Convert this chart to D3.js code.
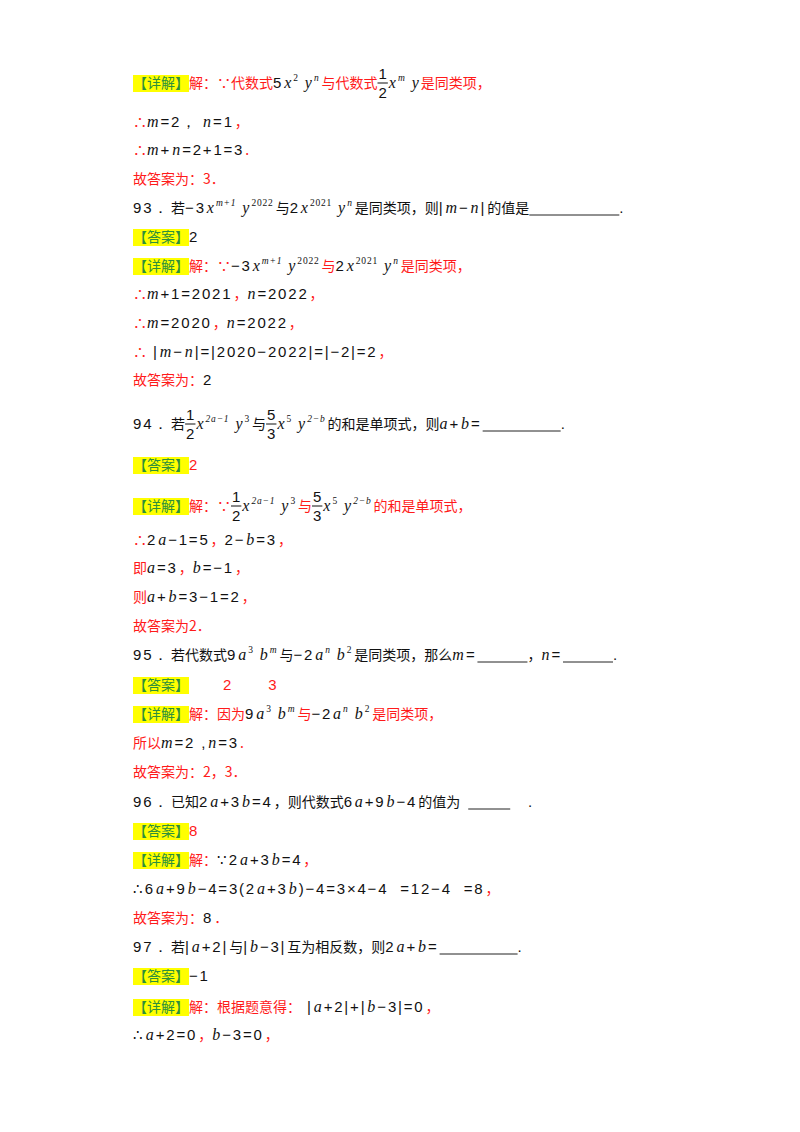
<!DOCTYPE html>
<html><head><meta charset="utf-8">
<script src="https://cdn.jsdelivr.net/npm/d3@7/dist/d3.min.js"></script>
<style>body{margin:0;background:#fff}</style>
</head><body>
<svg id="page" width="800" height="1132"></svg>
<script>
// token helpers: type, text, colour
function c(t, col) { return ["c", t, col]; }
function m(t, col) { return ["m", t, col]; }
function n(t, col) { return ["n", t, col]; }
function s(t) { return ["s", t]; }
function f(a, b) { return ["f", a, b]; }
function T(t) { return ["T", t]; }
function B(w) { return ["B", w]; }
function g(w) { return ["g", w]; }

var rowY = [88, 127, 155, 184, 213, 242, 271, 299, 328, 357, 385, 429, 470, 511, 545, 573, 602, 631, 660, 690, 719, 748, 777, 807, 836, 865, 894, 923, 952, 981, 1012, 1040];

var lines = [
  [T("【详解】"), c("解：∵代数式","r"), n("5"), m("x"), s("2"), m(" y"), s("n"), c("与代数式","r"), f("1","2"), m("x"), s("m"), m(" y"), c("是同类项，","r")],
  [c("∴","r"), m("m"), n("=2，"), m(" n"), n("=1"), c("，","r")],
  [c("∴","r"), m("m"), n("+"), m("n"), n("=2+1=3"), c(".","r")],
  [c("故答案为：3．","r")],
  [n("93．"), c("若"), n("−3"), m("x"), s("m+1"), m(" y"), s("2022"), c("与"), n("2"), m("x"), s("2021"), m(" y"), s("n"), c("是同类项，则"), n("|"), m("m"), n("−"), m("n"), n("|"), c("的值是"), B(90), n(".")],
  [T("【答案】"), n("2")],
  [T("【详解】"), c("解：∵","r"), n("−3"), m("x"), s("m+1"), m(" y"), s("2022"), c("与","r"), n("2"), m("x"), s("2021"), m(" y"), s("n"), c("是同类项，","r")],
  [c("∴","r"), m("m"), n("+1=2021"), c("，","r"), m("n"), n("=2022"), c("，","r")],
  [c("∴","r"), m("m"), n("=2020"), c("，","r"), m("n"), n("=2022"), c("，","r")],
  [c("∴","r"), n(" |"), m("m"), n("−"), m("n"), n("|=|2020−2022|=|−2|=2"), c("，","r")],
  [c("故答案为：","r"), n("2")],
  [n("94．"), c("若"), f("1","2"), m("x"), s("2a−1"), m(" y"), s("3"), c("与"), f("5","3"), m("x"), s("5"), m(" y"), s("2−b"), c("的和是单项式，则"), m("a"), n("+"), m("b"), n("="), B(78), n(".")],
  [T("【答案】"), n("2","r")],
  [T("【详解】"), c("解：∵","r"), f("1","2"), m("x"), s("2a−1"), m(" y"), s("3"), c("与","r"), f("5","3"), m("x"), s("5"), m(" y"), s("2−b"), c("的和是单项式，","r")],
  [c("∴","r"), n("2"), m("a"), n("−1=5"), c("，","r"), n("2−"), m("b"), n("=3"), c("，","r")],
  [c("即","r"), m("a"), n("=3"), c("，","r"), m("b"), n("=−1"), c("，","r")],
  [c("则","r"), m("a"), n("+"), m("b"), n("=3−1=2"), c("，","r")],
  [c("故答案为2．","r")],
  [n("95．"), c("若代数式"), n("9"), m("a"), s("3"), m(" b"), s("m"), c("与"), n("−2"), m("a"), s("n"), m(" b"), s("2"), c("是同类项，那么"), m("m"), n("="), B(50), c("，"), m("n"), n("="), B(50), n(".")],
  [T("【答案】"), g(34), n("2","r"), g(34), n("3","r")],
  [T("【详解】"), c("解：因为","r"), n("9"), m("a"), s("3"), m(" b"), s("m"), c("与","r"), n("−2"), m("a"), s("n"), m(" b"), s("2"), c("是同类项，","r")],
  [c("所以","r"), m("m"), n("=2 ,"), m("n"), n("=3"), c(".","r")],
  [c("故答案为：2，3．","r")],
  [n("96．"), c("已知"), n("2"), m("a"), n("+3"), m("b"), n("=4"), c("，则代数式"), n("6"), m("a"), n("+9"), m("b"), n("−4"), c("的值为"), g(8), B(42), n("   .")],
  [T("【答案】"), n("8","r")],
  [T("【详解】"), c("解：","r"), n("∵2"), m("a"), n("+3"), m("b"), n("=4"), c("，","r")],
  [n("∴6"), m("a"), n("+9"), m("b"), n("−4=3(2"), m("a"), n("+3"), m("b"), n(")−4=3×4−4  =12−4  =8"), c("，","r")],
  [c("故答案为：","r"), n("8"), c("．","r")],
  [n("97．"), c("若"), n("|"), m("a"), n("+2|"), c("与"), n("|"), m("b"), n("−3|"), c("互为相反数，则"), n("2"), m("a"), n("+"), m("b"), n("="), B(78), n(".")],
  [T("【答案】"), n("−1")],
  [T("【详解】"), c("解：根据题意得：","r"), n(" |"), m("a"), n("+2|+|"), m("b"), n("−3|=0"), c("，","r")],
  [n("∴"), m("a"), n("+2=0"), c("，","r"), m("b"), n("−3=0"), c("，","r")]
];

var colours = { r: "#ff1a1a", k: "#111" };
var cjk = "'Noto Sans CJK SC', sans-serif";
var serif = "'Liberation Serif', serif";
var sans = "'Liberation Sans', sans-serif";
var fs = 14;
var left = 133;

var svg = d3.select("#page");

function put(x, y, txt, font, size, col, style) {
  var el = svg.append("text").attr("x", x).attr("y", y)
    .attr("font-family", font).attr("font-size", size)
    .attr("fill", col).attr("font-style", style || "normal")
    .attr("xml:space", "preserve").style("white-space", "pre")
    .text(txt);
  return el;
}

lines.forEach(function(tokens, i) {
  var y = rowY[i];
  var x = left;
  tokens.forEach(function(tk) {
    var col = colours[tk[2] || "k"];
    var el;
    if (tk[0] === "T") {
      var tg = svg.append("g");
      var rect = tg.append("rect").attr("y", y - 13).attr("height", 17).attr("fill", "#ffff00");
      var tt = tg.append("text").attr("x", x).attr("y", y).attr("font-family", cjk)
        .attr("font-size", fs).attr("fill", "#2d8f3c").text(tk[1]);
      var w = tt.node().getComputedTextLength();
      rect.attr("x", x).attr("width", w);
      x += w;
    } else if (tk[0] === "c") {
      el = put(x, y, tk[1], cjk, fs, col);
      x += el.node().getComputedTextLength();
    } else if (tk[0] === "m") {
      el = put(x, y, tk[1], serif, fs + 2, col, "italic");
      x += el.node().getComputedTextLength() + 2;
    } else if (tk[0] === "n") {
      el = put(x, y, tk[1], sans, fs + 1, col);
      el.attr("letter-spacing", 1.8);
      x += el.node().getComputedTextLength() + 1;
    } else if (tk[0] === "s") {
      el = put(x, y - 7, tk[1], serif, 9.5, "#111", /[a-z]/.test(tk[1]) ? "italic" : "normal");
      el.attr("letter-spacing", 0.8);
      x += el.node().getComputedTextLength() + 2;
    } else if (tk[0] === "f") {
      var a = put(x, y - 9, tk[1], sans, fs + 1, "#111");
      var b = put(x, y + 10, tk[2], sans, fs + 1, "#111");
      var fw = Math.max(a.node().getComputedTextLength(), b.node().getComputedTextLength()) + 2;
      svg.append("line").attr("x1", x).attr("x2", x + fw).attr("y1", y - 5).attr("y2", y - 5)
        .attr("stroke", "#111").attr("stroke-width", 1);
      a.attr("x", x + 1); b.attr("x", x + 1);
      x += fw + 1;
    } else if (tk[0] === "B") {
      svg.append("line").attr("x1", x).attr("x2", x + tk[1]).attr("y1", y + 2).attr("y2", y + 2)
        .attr("stroke", "#222").attr("stroke-width", 1);
      x += tk[1];
    } else if (tk[0] === "g") {
      x += tk[1];
    }
  });
});
</script>
</body></html>
